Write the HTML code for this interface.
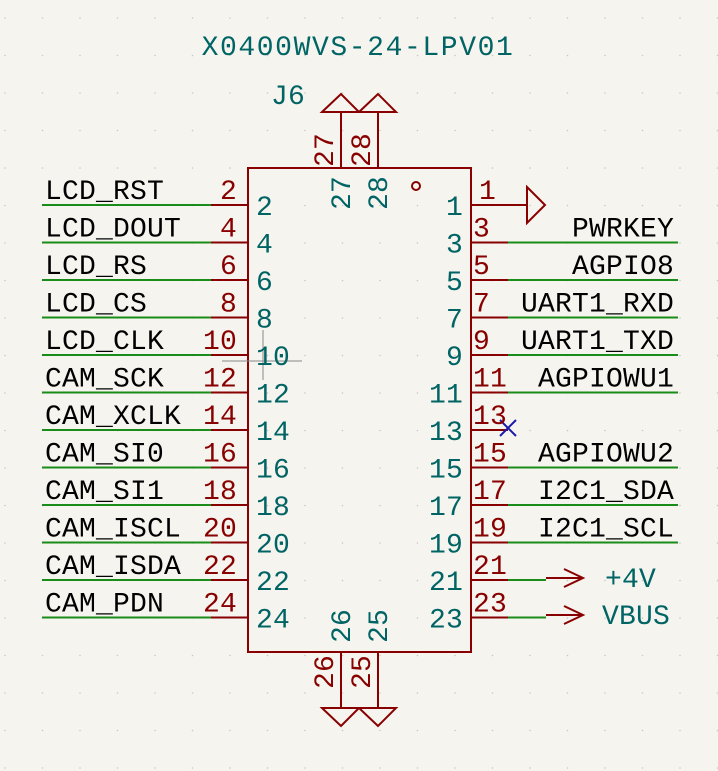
<!DOCTYPE html>
<html><head><meta charset="utf-8"><style>
html,body{margin:0;padding:0;background:#f5f4ef;}
svg{display:block}
text{font-family:"Liberation Mono","DejaVu Sans Mono",monospace;font-size:28px;letter-spacing:0.2px;}
.l{fill:#000}
.r{fill:#880000}
.t{fill:#006464}
</style></head><body>
<svg width="718" height="771" viewBox="0 0 718 771" xmlns="http://www.w3.org/2000/svg">
<defs><pattern id="g" width="37.5" height="37.5" patternUnits="userSpaceOnUse" x="4" y="17"><circle cx="1" cy="1" r="0.8" fill="#c8c8c2"/></pattern></defs>
<rect width="718" height="771" fill="#f5f4ef"/>
<rect width="718" height="771" fill="url(#g)"/>
<text x="358" y="55" text-anchor="middle" class="t" style="letter-spacing:1.6px">X0400WVS-24-LPV01</text>
<text x="271" y="104" class="t">J6</text>
<g stroke="#880000" stroke-width="2" fill="none">
<rect x="248" y="168" width="223" height="484"/>
<circle cx="416" cy="186" r="4"/>
<line x1="341" y1="112" x2="341" y2="168"/><line x1="378" y1="112" x2="378" y2="168"/>
<path d="M322 112 L341 94 L359 112 Z M359 112 L378 94 L396 112 Z"/>
<line x1="341" y1="652" x2="341" y2="708"/><line x1="378" y1="652" x2="378" y2="708"/>
<path d="M322 708 L341 726 L359 708 Z M359 708 L378 726 L396 708 Z"/>
<line x1="471" y1="205" x2="527" y2="205"/>
<path d="M527 187 L545 205 L527 223 Z"/>
<line x1="546" y1="578" x2="583" y2="578"/><path d="M564 569 L583 578 L564 587"/>
<line x1="546" y1="615" x2="583" y2="615"/><path d="M564 606 L583 615 L564 624"/>
</g>
<g stroke="#880000" stroke-width="2" id="pins"></g>
<g stroke="#1a8c1a" stroke-width="2" id="wires"></g>
<line x1="222" y1="361" x2="302" y2="361" stroke="#888" stroke-width="1"/>
<line x1="263" y1="330" x2="263" y2="380" stroke="#888" stroke-width="1"/>
<path d="M500 420 L516 436 M516 420 L500 436" stroke="#1a1aaa" stroke-width="2"/>
<g id="txt"></g>
<text transform="translate(333,167) rotate(-90)" class="r">27</text>
<text transform="translate(370,167) rotate(-90)" class="r">28</text>
<text transform="translate(350,210) rotate(-90)" class="t">27</text>
<text transform="translate(387,210) rotate(-90)" class="t">28</text>
<text transform="translate(350,643) rotate(-90)" class="t">26</text>
<text transform="translate(387,643) rotate(-90)" class="t">25</text>
<text transform="translate(333,689) rotate(-90)" class="r">26</text>
<text transform="translate(370,689) rotate(-90)" class="r">25</text>
<text x="605" y="587" class="t">+4V</text>
<text x="602" y="624" class="t">VBUS</text>
<script>
var L=["LCD_RST","LCD_DOUT","LCD_RS","LCD_CS","LCD_CLK","CAM_SCK","CAM_XCLK","CAM_SI0","CAM_SI1","CAM_ISCL","CAM_ISDA","CAM_PDN"];
var R=["","PWRKEY","AGPIO8","UART1_RXD","UART1_TXD","AGPIOWU1","","AGPIOWU2","I2C1_SDA","I2C1_SCL","",""];
var ns="http://www.w3.org/2000/svg";
function el(p,n,a,t){var e=document.createElementNS(ns,n);for(var k in a)e.setAttribute(k,a[k]);if(t!==undefined)e.textContent=t;p.appendChild(e);return e;}
var P=document.getElementById("pins"),W=document.getElementById("wires"),T=document.getElementById("txt");
for(var i=0;i<12;i++){var y=205+i*37.5;
 var ln=2*i+2, rn=2*i+1;
 el(P,"line",{x1:211,y1:y,x2:248,y2:y});
 el(W,"line",{x1:42,y1:y,x2:211,y2:y});
 el(T,"text",{x:45,y:y-6,"class":"l"},L[i]);
 el(T,"text",{x:237,y:y-6,"class":"r","text-anchor":"end"},ln);
 el(T,"text",{x:256,y:y+10,"class":"t"},ln);
 el(T,"text",{x:463,y:y+10,"class":"t","text-anchor":"end"},rn);
 if(i>0){el(P,"line",{x1:471,y1:y,x2:508,y2:y});
  el(T,"text",{x:473,y:y-6,"class":"r"},rn);
  if(i!=6){ if(i>=10) el(W,"line",{x1:508,y1:y,x2:546,y2:y}); else el(W,"line",{x1:508,y1:y,x2:678,y2:y});}
  if(R[i]) el(T,"text",{x:674,y:y-6,"class":"l","text-anchor":"end"},R[i]);
 } else el(T,"text",{x:479,y:y-6,"class":"r"},rn);
}
</script>
</svg>
</body></html>
